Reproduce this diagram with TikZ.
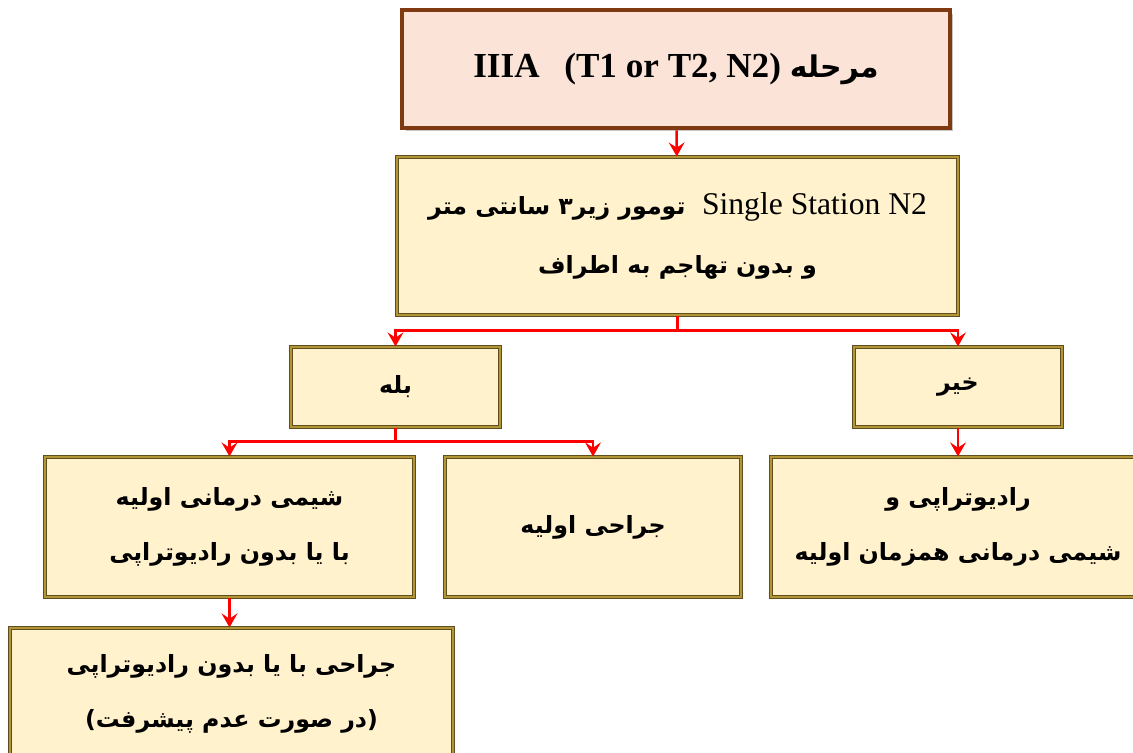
\documentclass[tikz,border=0pt]{standalone}
\usepackage{fontspec}
\setmainfont{Liberation Serif}
\newfontfamily\farsifont[Script=Arabic]{DejaVu Sans}
\TeXXeTstate=1
\usetikzlibrary{%
    arrows.meta,
    positioning,
    shadows
}
\definecolor{boxfill}{HTML}{FFF2CC}
\definecolor{boxline}{HTML}{5E4F1F}
\definecolor{boxinner}{HTML}{B39536}
\definecolor{stagefill}{HTML}{FBE4D7}
\definecolor{stageline}{HTML}{7F3A12}
\definecolor{flowred}{HTML}{FF0000}
\newcommand{\fa}[1]{{\farsifont\bfseries\beginR #1\endR}}
\tikzset{flowarrow/.style = {draw=flowred, line width=1.4pt, -{Stealth[length=8pt, width=9pt, inset=3pt]}}}
\tikzset{stepbox/.style = {draw=boxline, double=boxinner, double distance=.7pt, line width=.6pt,
    fill=boxfill, align=center, inner sep=0pt, font=\fontsize{13.5}{31}\selectfont}}

\begin{document}
\begin{tikzpicture}[x=0.02cm, y=-0.02cm]
    \useasboundingbox (0,0) rectangle (1133,753);

    \node[draw=stageline, line width=2.6pt, fill=stagefill, minimum width=10.96cm, minimum height=2.36cm,
        drop shadow={shadow xshift=2pt, shadow yshift=-2pt, fill=black!45}] (stage) at (676,69)
        {\fontsize{20}{24}\selectfont\bfseries IIIA\hspace{14pt}(T1 or T2, N2) \fa{\fontsize{17}{24}\selectfont مرحله}};
    \node[stepbox, minimum width=11.22cm, minimum height=3.16cm, font=\fontsize{13.5}{34}\selectfont] (n2) at (677.5,236)
        {\fa{\beginL{\fontsize{18}{34}\normalfont Single Station N2}\endL{}\ \ تومور زیر۳ سانتی متر}\\
         \fa{و بدون تهاجم به اطراف}};

    \node[stepbox, minimum width=4.18cm, minimum height=1.6cm] (yes) at (395.5,387) {\fa{بله}};
    \node[stepbox, minimum width=4.16cm, minimum height=1.6cm] (no) at (958,387) {\fa{خیر}};

    \node[stepbox, minimum width=7.38cm, minimum height=2.8cm] (chemo) at (229.5,527)
        {\fa{شیمی درمانی اولیه}\\ \fa{با یا بدون رادیوتراپی}};
    \node[stepbox, minimum width=5.92cm, minimum height=2.8cm] (surgery) at (593,527) {\fa{جراحی اولیه}};
    \node[stepbox, minimum width=7.48cm, minimum height=2.8cm] (chemorad) at (958,527)
        {\fa{رادیوتراپی و}\\ \fa{شیمی درمانی همزمان اولیه}};
    \node[stepbox, minimum width=8.86cm, minimum height=2.64cm] (later) at (231.5,694)
        {\fa{جراحی با یا بدون رادیوتراپی}\\ \fa{(در صورت عدم پیشرفت)}};

    % connectors
    \draw[flowarrow] (stage) -- (n2);
    \draw[flowarrow] (n2.south) -- ++(0,15) -| (yes.north);
    \draw[flowarrow] (n2.south) -- ++(0,15) -| (no.north);
    \draw[flowarrow] (yes.south) -- ++(0,14) -| (chemo.north);
    \draw[flowarrow] (yes.south) -- ++(0,14) -| (surgery.north);
    \draw[flowarrow] (no) -- (chemorad);
    \draw[flowarrow] (chemo.south) -- (chemo.south |- later.north);
\end{tikzpicture}
\end{document}
